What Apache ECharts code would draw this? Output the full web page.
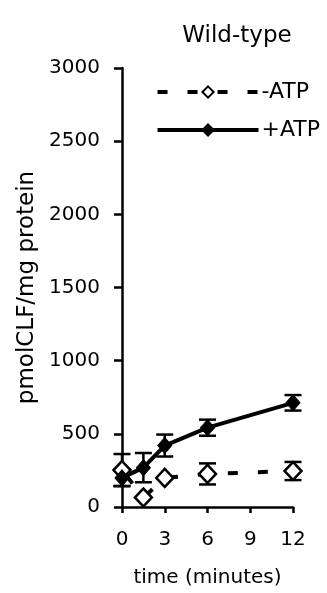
<!DOCTYPE html>
<html>
<head>
<meta charset="utf-8">
<script src="https://cdn.jsdelivr.net/npm/echarts@6/dist/echarts.min.js"></script>
<style>
  html, body { margin: 0; padding: 0; background: #fff; }
  #chart { width: 327px; height: 593px; }
</style>
</head>
<body>
<div id="chart"></div>
<script>
// time points (minutes)
const times = [0, 1.5, 3, 6, 12]
// -ATP
const minusMean = [252, 65, 199, 226, 246]
const minusErr = [110, 0, 0, 72, 62]
// +ATP
const plusMean = [199, 269, 420, 542, 712]
const plusErr = [55, 100, 75, 55, 53]

const xTicks = [0, 3, 6, 9, 12]
const yTicks = [0, 500, 1000, 1500, 2000, 2500, 3000]

const font = 'DejaVu Sans, Verdana, sans-serif'

function errData(mean, err) {
  return times.map((t, i) => [t, mean[i] - err[i], mean[i] + err[i]])
}

function errRender(params, api) {
  const x = api.value(0)
  const lo = api.coord([x, api.value(1)])
  const hi = api.coord([x, api.value(2)])
  if (hi[1] === lo[1]) return null
  const w = 8.5
  const st = { stroke: '#000', lineWidth: 2.5 }
  return {
    type: 'group',
    children: [
      { type: 'line', shape: { x1: lo[0], y1: lo[1], x2: hi[0], y2: hi[1] }, style: st },
      { type: 'line', shape: { x1: lo[0] - w, y1: lo[1], x2: lo[0] + w, y2: lo[1] }, style: st },
      { type: 'line', shape: { x1: hi[0] - w, y1: hi[1], x2: hi[0] + w, y2: hi[1] }, style: st }
    ]
  }
}

const chart = echarts.init(document.getElementById('chart'))
chart.setOption({
  animation: false,
  title: {
    text: 'Wild-type',
    left: 232,
    textAlign: 'center',
    top: 20,
    textStyle: { fontFamily: font, fontSize: 23, fontWeight: 'normal', color: '#000' }
  },
  legend: {
    orient: 'vertical',
    right: 2,
    top: 76,
    itemWidth: 101,
    itemHeight: 14,
    itemGap: 16,
    data: [
      { name: '-ATP', lineStyle: { width: 4, dashOffset: 0 } },
      { name: '+ATP', lineStyle: { width: 4 } }
    ],
    textStyle: { fontFamily: font, fontSize: 22, color: '#000', padding: [0, 0, 0, -2] }
  },
  grid: { left: 122, right: 34, top: 68, bottom: 86 },
  xAxis: {
    type: 'value',
    min: 0,
    max: 12,
    interval: 3,
    name: 'time (minutes)',
    nameLocation: 'middle',
    nameGap: 61,
    nameTextStyle: { fontFamily: font, fontSize: 20, color: '#000' },
    axisLine: { lineStyle: { color: '#000', width: 2.5 } },
    axisTick: { show: true, length: 6, lineStyle: { color: '#000', width: 2.5 } },
    axisLabel: {
      fontFamily: font, fontSize: 20, color: '#000', margin: 23,
      formatter: v => xTicks.includes(v) ? String(v) : ''
    },
    splitLine: { show: false }
  },
  yAxis: {
    type: 'value',
    min: 0,
    max: 3000,
    interval: 500,
    name: 'pmolCLF/mg protein',
    nameLocation: 'middle',
    nameGap: 74,
    nameTextStyle: { fontFamily: font, fontSize: 23, color: '#000' },
    axisLine: { show: true, lineStyle: { color: '#000', width: 2.5 } },
    axisTick: { show: true, length: 8, lineStyle: { color: '#000', width: 2.5 } },
    axisLabel: {
      fontFamily: font, fontSize: 20, color: '#000', margin: 22,
      formatter: v => yTicks.includes(v) ? String(v) : ''
    },
    splitLine: { show: false }
  },
  series: [
    {
      name: '-ATP',
      type: 'line',
      data: times.map((t, i) => [t, minusMean[i]]),
      symbol: 'diamond',
      symbolSize: [17, 18],
      itemStyle: { color: '#fff', borderColor: '#000', borderWidth: 2.5 },
      lineStyle: { color: '#000', width: 4, type: [10, 20], dashOffset: 23 },
      z: 3
    },
    {
      name: '+ATP',
      type: 'line',
      data: times.map((t, i) => [t, plusMean[i]]),
      symbol: 'diamond',
      symbolSize: [14, 16],
      itemStyle: { color: '#000', borderColor: '#000', borderWidth: 1 },
      lineStyle: { color: '#000', width: 4 },
      z: 4
    },
    {
      type: 'custom',
      renderItem: errRender,
      data: errData(minusMean, minusErr),
      encode: { x: 0, y: [1, 2] },
      z: 2,
      silent: true
    },
    {
      type: 'custom',
      renderItem: errRender,
      data: errData(plusMean, plusErr),
      encode: { x: 0, y: [1, 2] },
      z: 2,
      silent: true
    }
  ]
})
</script>
</body>
</html>
